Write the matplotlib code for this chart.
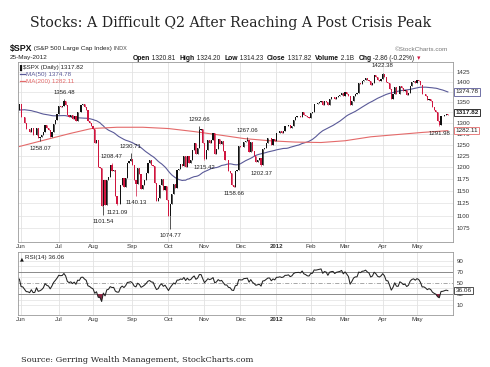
import numpy as np
import pandas as pd
import matplotlib
matplotlib.use("Agg")
import matplotlib.pyplot as plt
from matplotlib.ticker import FixedLocator, FixedFormatter, NullLocator

# ---------------- data ----------------
title = "Stocks: A Difficult Q2 After Reaching A Post Crisis Peak"
source = "Source: Gerring Wealth Management, StockCharts.com"

start_date, end_date = "2011-05-31", "2012-05-25"
holidays = ["2011-07-04", "2011-09-05", "2011-11-24", "2011-12-26",
            "2012-01-02", "2012-01-16", "2012-02-20", "2012-04-06"]

# closes before the visible window (used only for MA(50) / RSI(14) warm-up)
warmup_closes = [1279.20, 1298.38, 1293.77, 1297.54, 1309.66, 1313.80, 1310.19, 1319.44, 1328.26, 1325.83,
                 1332.41, 1332.87, 1332.63, 1335.54, 1333.51, 1328.17, 1324.46, 1314.16, 1314.41, 1314.52,
                 1319.68, 1305.14, 1312.62, 1330.36, 1337.38, 1335.25, 1347.24, 1355.66, 1360.48, 1363.61,
                 1361.22, 1356.62, 1347.32, 1335.10, 1340.20, 1346.29, 1357.16, 1342.08, 1348.65, 1337.77,
                 1329.47, 1328.98, 1340.68, 1343.60, 1333.27, 1317.37, 1316.28, 1320.47, 1325.69, 1331.10]

closes = [
    1345.20,
    # Jun 2011
    1314.55, 1312.94, 1300.16, 1286.17, 1284.94, 1279.56, 1289.00, 1270.98, 1271.83, 1287.87, 1265.42,
    1267.64, 1271.50, 1278.36, 1295.52, 1287.14, 1283.50, 1268.45, 1280.10, 1296.67, 1307.41, 1320.64,
    # Jul
    1339.67, 1337.88, 1339.22, 1353.22, 1343.80, 1319.49, 1313.64, 1317.72, 1308.87, 1316.14,
    1305.44, 1326.73, 1325.84, 1343.80, 1345.02, 1337.43, 1331.94, 1304.89, 1300.67, 1292.28,
    # Aug
    1286.94, 1254.05, 1260.34, 1200.07, 1199.38, 1119.46, 1172.53, 1120.76, 1172.64, 1178.81, 1204.49,
    1192.76, 1193.89, 1140.65, 1123.53, 1123.82, 1162.35, 1177.60, 1159.27, 1176.80, 1210.08, 1212.92, 1218.89,
    # Sep
    1204.42, 1173.97, 1165.24, 1198.62, 1185.90, 1154.23, 1162.27, 1172.87, 1188.68, 1209.11, 1216.01,
    1204.09, 1202.09, 1166.76, 1129.56, 1136.43, 1162.95, 1175.38, 1151.06, 1160.40, 1131.42,
    # Oct
    1099.23, 1123.95, 1144.03, 1164.97, 1155.46, 1194.89, 1195.54, 1207.25, 1203.66, 1224.58, 1200.86,
    1225.38, 1209.88, 1215.39, 1238.25, 1254.19, 1229.05, 1242.00, 1284.59, 1285.09, 1253.30,
    # Nov
    1218.28, 1237.90, 1261.15, 1253.23, 1261.12, 1275.92, 1229.10, 1239.69, 1263.85, 1251.78, 1257.81,
    1236.91, 1216.13, 1215.65, 1192.98, 1188.04, 1161.79, 1158.67, 1192.55, 1195.19, 1246.96,
    # Dec
    1244.58, 1244.28, 1257.08, 1258.47, 1261.01, 1234.35, 1255.19, 1236.47, 1225.73, 1211.82, 1215.75,
    1219.66, 1205.35, 1241.30, 1243.72, 1254.00, 1265.33, 1265.43, 1249.64, 1263.02, 1257.60,
    # Jan 2012
    1277.06, 1277.30, 1281.06, 1277.81, 1280.70, 1292.08, 1292.48, 1295.50, 1289.09, 1293.67,
    1308.04, 1314.50, 1315.38, 1316.00, 1314.65, 1326.06, 1318.43, 1316.33, 1313.01, 1312.41,
    # Feb
    1324.09, 1325.54, 1344.90, 1344.33, 1347.05, 1349.96, 1351.95, 1342.64, 1351.77, 1350.50,
    1343.23, 1358.04, 1361.23, 1362.21, 1357.66, 1363.46, 1365.74, 1367.59, 1372.18, 1365.68,
    # Mar
    1374.09, 1369.63, 1364.33, 1343.36, 1352.63, 1365.91, 1370.87, 1371.09, 1395.95, 1394.28, 1402.60,
    1404.17, 1409.75, 1405.52, 1402.89, 1392.78, 1397.11, 1416.51, 1412.52, 1405.54, 1403.28, 1408.47,
    # Apr
    1419.04, 1413.38, 1398.96, 1398.08, 1382.20, 1358.59, 1368.71, 1387.57, 1370.26, 1369.57,
    1390.78, 1385.14, 1376.92, 1378.53, 1366.94, 1371.97, 1390.69, 1399.98, 1403.36, 1397.91,
    # May
    1405.82, 1402.31, 1391.57, 1369.10, 1369.58, 1363.72, 1354.58, 1357.99, 1353.39, 1338.35,
    1330.66, 1324.80, 1304.86, 1295.22, 1315.99, 1316.63, 1318.86, 1320.68, 1317.82,
]

# MA(200)
ma200_dates = ["2011-05-31", "2011-06-14", "2011-06-28", "2011-07-13", "2011-07-29", "2011-08-19",
               "2011-09-12", "2011-10-03", "2011-10-24", "2011-11-14", "2011-12-05", "2011-12-27",
               "2012-01-19", "2012-02-09", "2012-03-01", "2012-03-22", "2012-04-13", "2012-05-04",
               "2012-05-25"]
ma200_vals = [1246, 1256, 1266, 1276, 1287, 1290, 1290, 1287, 1280, 1272, 1264, 1259,
              1256, 1255, 1259, 1268, 1273, 1278, 1282.11]

# labelled highs / lows
ann_dates = ["2011-06-16", "2011-07-07", "2011-08-09", "2011-08-16", "2011-08-19", "2011-08-31",
             "2011-09-06", "2011-10-04", "2011-10-27", "2011-11-01", "2011-11-25", "2011-12-07",
             "2011-12-19", "2012-04-02", "2012-05-18"]
ann_vals = [1258.07, 1356.48, 1101.54, 1208.47, 1121.09, 1230.71, 1140.13, 1074.77, 1292.66,
            1215.42, 1158.66, 1267.06, 1202.37, 1422.38, 1291.98]
ann_side = ["below", "above", "below", "above", "below", "above", "below", "below", "above",
            "below", "below", "above", "below", "above", "below"]

price_ticks = [1075, 1100, 1125, 1150, 1175, 1200, 1225, 1250, 1275, 1300, 1325, 1350, 1375, 1400, 1425]
price_ticks_hidden = [1325, 1375]   # covered by the value boxes in the original
rsi_ticks = [10, 30, 50, 70, 90]
rsi_period = 14
ma_period = 50

header_vals = [("Open", "1320.81"), ("High", "1324.20"), ("Low", "1314.23"), ("Close", "1317.82"),
               ("Volume", "2.1B"), ("Chg", "-2.86 (-0.22%)")]

# ---------------- derived ----------------
dates = pd.bdate_range(start_date, end_date)
dates = dates[~dates.isin(pd.to_datetime(holidays))]
assert len(dates) == len(closes), (len(dates), len(closes))
idx_of = {d: i for i, d in enumerate(dates)}
x = np.arange(len(closes))
c = np.array(closes)
all_c = np.array(warmup_closes + closes)
prev = all_c[len(warmup_closes) - 1:-1]

ma50 = pd.Series(all_c).rolling(ma_period).mean().values[len(warmup_closes):]

d = np.diff(all_c)
g = np.clip(d, 0, None); l = np.clip(-d, 0, None)
ag = g[:rsi_period].mean(); al = l[:rsi_period].mean()
rsi_all = [np.nan] * rsi_period
rsi_all.append(100 - 100 / (1 + ag / al))
for i in range(rsi_period, len(d)):
    ag = (ag * (rsi_period - 1) + g[i]) / rsi_period
    al = (al * (rsi_period - 1) + l[i]) / rsi_period
    rsi_all.append(100 - 100 / (1 + ag / al))
rsi = np.array(rsi_all)[len(warmup_closes):]

month_idx, month_lab = [], []
for i in range(1, len(dates)):
    if dates[i].month != dates[i - 1].month:
        month_idx.append(i)
        month_lab.append(str(dates[i].year) if dates[i].month == 1 else dates[i].strftime("%b"))

# ---------------- figure ----------------
W, H = 490, 367
fig = plt.figure(figsize=(W / 100, H / 100), dpi=100)
fig.patch.set_facecolor("white")
SANS = "Liberation Sans"
RED = "#d0163f"
BLUE = "#5a5a98"
PINK = "#e46a6a"
GRID = "#e2e2e2"

ov = fig.add_axes([0, 0, 1, 1])
ov.set_xlim(0, W); ov.set_ylim(H, 0); ov.axis("off")

r = fig.canvas.get_renderer()
t = ov.text(30, 23, title, family="DejaVu Serif", size=10, va="center", color="#222")
w = t.get_window_extent(r).width
t.set_fontsize(10 * 401 / w)
s = ov.text(21, 360, source, family="DejaVu Serif", size=6, va="center", color="#222")
w = s.get_window_extent(r).width
s.set_fontsize(6 * 233 / w)

# header line 1
h1 = ov.text(10, 51, "$SPX", family=SANS, weight="bold", size=6.3, va="baseline", color="#111")
h2 = ov.annotate(" (S&P 500 Large Cap Index)", xy=(1, 0), xycoords=h1, xytext=(0, 1.2), textcoords="offset points",
                 family=SANS, size=4.6, va="bottom", color="#222")
ov.annotate(" INDX", xy=(1, 0), xycoords=h2, family=SANS, size=4.0, va="bottom", color="#444")
ov.text(448, 51, "\u00a9StockCharts.com", family=SANS, size=4.6, ha="right", va="baseline", color="#777")
ov.text(10, 59.5, "25-May-2012", family=SANS, size=4.6, va="baseline", color="#222")
prev_t = None
for k, (lab, val) in enumerate(header_vals):
    if prev_t is None:
        a = ov.text(133, 59.5, lab, family=SANS, weight="bold", size=4.9, va="baseline", color="#111")
    else:
        a = ov.annotate(lab, xy=(1, 0), xycoords=prev_t, xytext=(3, 0), textcoords="offset points",
                        family=SANS, weight="bold", size=4.9, va="bottom", color="#111")
    b = ov.annotate(" " + val, xy=(1, 0), xycoords=a, family=SANS, size=4.7, va="bottom", color="#222")
    prev_t = b
ov.annotate(" \u25BE", xy=(1, 0), xycoords=prev_t, family="DejaVu Sans", size=4.7, va="bottom", color=RED)

# ---------------- price panel ----------------
ax = fig.add_axes([18 / W, 1 - 242 / H, 435 / W, 180 / H])
ax.set_yscale("log")
ax.set_ylim(1049, 1451)
ax.set_xlim(-0.8, 253)
for sp in ax.spines.values():
    sp.set_color("#9a9a9a"); sp.set_linewidth(0.6)
ax.yaxis.tick_right()
ax.yaxis.set_major_locator(FixedLocator(price_ticks))
ax.yaxis.set_major_formatter(FixedFormatter(["" if v in price_ticks_hidden else str(v) for v in price_ticks]))
ax.yaxis.set_minor_locator(NullLocator())
ax.tick_params(axis="y", length=0, pad=2.5, labelsize=4.4, labelcolor="#333")
ax.set_xticks(month_idx)
ax.set_xticklabels(month_lab)
ax.tick_params(axis="x", length=0, pad=1.5, labelsize=4.4, labelcolor="#333")
for lab in ax.get_xticklabels() + ax.get_yticklabels():
    lab.set_family(SANS)
    if lab.get_text() == "2012":
        lab.set_weight("bold")
for v in price_ticks:
    ax.axhline(v, color=GRID, lw=0.5, zorder=0)
for i in month_idx:
    ax.axvline(i, color=GRID, lw=0.6, zorder=0)

col = np.where(c < prev, RED, "#111111")
lo = np.minimum(c, prev); hi = np.maximum(c, prev)
ax.vlines(x, lo, hi, colors=col, lw=0.5, zorder=3)
ax.bar(x, hi - lo, bottom=lo, width=0.68, color=col, lw=0, zorder=3)

ax.plot(x, ma50, color=BLUE, lw=0.8, zorder=2)
ma200_x = [idx_of[pd.Timestamp(dd)] for dd in ma200_dates]
ax.plot(ma200_x, ma200_vals, color=PINK, lw=0.8, zorder=2)

for dd, v, side in zip(ann_dates, ann_vals, ann_side):
    i = idx_of[pd.Timestamp(dd)]
    base = hi[i] if side == "above" else lo[i]
    ax.vlines(i, min(base, v), max(base, v), colors=col[i], lw=0.5, zorder=3)
    off = 3.3 if side == "above" else -3.3
    ax.annotate(f"{v:.2f}", xy=(i, v), xytext=(0, off), textcoords="offset points",
                ha="center", va="bottom" if side == "above" else "top",
                family=SANS, size=4.3, color="#222", zorder=5)

# legend
ax.text(0.012, 0.985, "$SPX (Daily) 1317.82", transform=ax.transAxes, family=SANS, size=4.5,
        va="top", color="#222")
ax.text(0.003, 0.985, "\u258C", transform=ax.transAxes, family="DejaVu Sans", size=4.0, va="top", color="#111")
for k, (lab, colr) in enumerate([("MA(50) 1374.78", BLUE), ("MA(200) 1282.11", PINK)]):
    yy = 0.947 - k * 0.039
    ax.plot([0.004, 0.016], [yy - 0.012, yy - 0.012], transform=ax.transAxes, color=colr, lw=0.9)
    ax.text(0.019, yy, lab, transform=ax.transAxes, family=SANS, size=4.5, va="top", color=colr)

# value boxes
for v, colr, txt, wt in [(1374.78, BLUE, "1374.78", "normal"), (1317.82, "#111", "1317.82", "bold"),
                         (1282.11, PINK, "1282.11", "normal")]:
    yy = v if txt != "1317.82" else v * 1.005
    ax.annotate(txt, xy=(1.006, yy), xycoords=("axes fraction", "data"), family=SANS, size=4.6,
                weight=wt, va="center", ha="left", color="#222", annotation_clip=False, zorder=6,
                bbox=dict(boxstyle="square,pad=0.18", fc="white", ec=colr, lw=0.6))

# ---------------- RSI panel ----------------
ax2 = fig.add_axes([18 / W, 1 - 315 / H, 435 / W, 63 / H])
ax2.set_xlim(-0.8, 253)
ax2.set_ylim(-8, 106)
for sp in ax2.spines.values():
    sp.set_color("#9a9a9a"); sp.set_linewidth(0.6)
ax2.yaxis.tick_right()
ax2.set_yticks(rsi_ticks)
ax2.set_yticklabels([str(v) for v in rsi_ticks])
ax2.tick_params(axis="y", length=0, pad=2.5, labelsize=4.4, labelcolor="#333")
ax2.set_xticks(month_idx)
ax2.set_xticklabels(month_lab)
ax2.tick_params(axis="x", length=0, pad=1.5, labelsize=4.4, labelcolor="#333")
for lab in ax2.get_xticklabels() + ax2.get_yticklabels():
    lab.set_family(SANS)
    if lab.get_text() == "2012":
        lab.set_weight("bold")
for v in [10, 20, 40, 60, 80, 90]:
    ax2.axhline(v, color=GRID, lw=0.5, zorder=0)
for i in month_idx:
    ax2.axvline(i, color=GRID, lw=0.6, zorder=0)
ax2.axhline(70, color="#777", lw=0.6, zorder=1)
ax2.axhline(30, color="#777", lw=0.6, zorder=1)
ax2.axhline(50, color="#999", lw=0.6, ls=(0, (5, 2, 1, 2)), zorder=1)
ax2.fill_between(x, rsi, 30, where=rsi < 30, interpolate=True, color="#8c2a45", lw=0, zorder=2)
ax2.plot(x, rsi, color="#222", lw=0.75, zorder=3)
ax2.text(0.004, 0.93, "\u25B2", transform=ax2.transAxes, family="DejaVu Sans", size=3.6, va="top", color="#111")
ax2.text(0.016, 0.95, "RSI(14) 36.06", transform=ax2.transAxes, family=SANS, size=4.5, va="top", color="#222")
ax2.annotate(f"{rsi[-1]:.2f}", xy=(1.006, rsi[-1]), xycoords=("axes fraction", "data"), family=SANS,
             size=4.6, va="center", ha="left", color="#222", annotation_clip=False, zorder=6,
             bbox=dict(boxstyle="square,pad=0.18", fc="white", ec="#333", lw=0.6))

fig.savefig("out.png", dpi=100, facecolor="white")
